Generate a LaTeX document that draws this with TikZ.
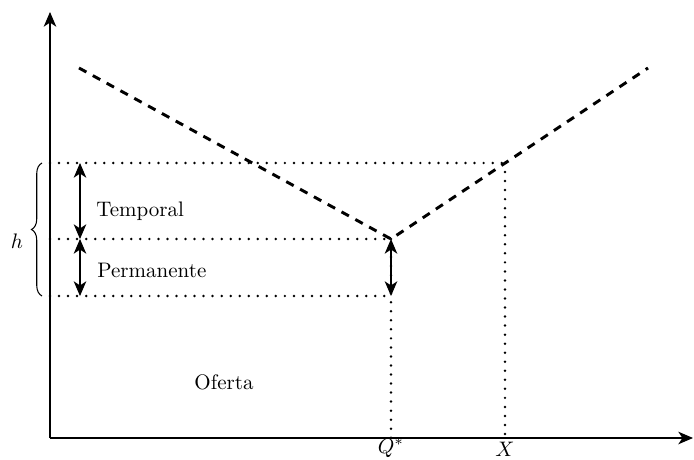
\documentclass[tikz,border=0pt]{standalone}
\usetikzlibrary{arrows.meta,decorations.pathreplacing}
\begin{document}
\begin{tikzpicture}[x=0.476pt,y=-0.476pt,
  axis/.style={line width=0.6pt,-{Stealth[length=7pt,width=6pt,inset=2pt]}},
  curve/.style={line width=1.4pt,dash pattern=on 4pt off 3.5pt},
  dots/.style={line width=1.3pt,line cap=round,dash pattern=on 0pt off 4.3pt},
  dbl/.style={line width=0.6pt,{Stealth[length=7pt,width=6pt,inset=2pt]}-{Stealth[length=7pt,width=6pt,inset=2pt]}},
  lbl/.style={inner sep=0pt}]
\useasboundingbox (0,0) rectangle (694,460);
\coordinate (O) at (50,438);
\coordinate (ytop) at (50,12);
\coordinate (xend) at (693,438);
\draw[axis] (O) -- (ytop);
\draw[axis] (O) -- (xend);
\coordinate (A) at (79,68);
\coordinate (V) at (391,239);
\coordinate (B) at (648,68);
\draw[curve] (A) -- (V) -- (B);
\coordinate (h1) at (50,163);
\coordinate (h2) at (50,239);
\coordinate (h3) at (50,296);
\coordinate (Xt) at (505,163);
\coordinate (Qb) at (391,296);
\coordinate (Qx) at (391,438);
\coordinate (Xx) at (505,438);
\draw[dots] (h1) -- (Xt);
\draw[dots] (h2) -- (V);
\draw[dots] (h3) -- (Qb);
\draw[dots] (V) -- (Qx);
\draw[dots] (Xt) -- (Xx);
\coordinate (a1) at (80,163);
\coordinate (a2) at (80,239);
\coordinate (a3) at (80,296);
\draw[dbl] (a1) -- (a2);
\draw[dbl] (a2) -- (a3);
\draw[dbl] (V) -- (Qb);
\coordinate (b1) at (42,296);
\coordinate (b2) at (42,163);
\draw[decorate,decoration={brace,amplitude=5pt},line width=0.5pt] (b1) -- (b2);
\node[lbl] (h) at (17,241) {$h$};
\node[lbl,anchor=west] (t) at (96,211) {Temporal};
\node[lbl,anchor=west] (p) at (97,270) {Permanente};
\node[lbl] (of) at (224,382) {Oferta};
\node[lbl] (q) at (391,448) {$Q^{*}$};
\node[lbl] (x) at (505,449) {$X$};
\end{tikzpicture}
\end{document}
